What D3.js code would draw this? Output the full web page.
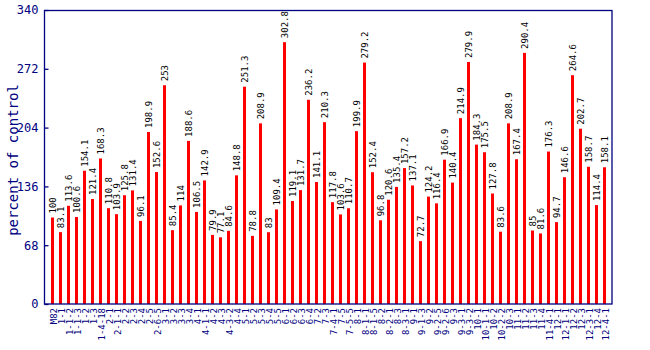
<!DOCTYPE html>
<html><head><meta charset="utf-8">
<script src="https://cdn.jsdelivr.net/npm/d3@7"></script>
<style>body{margin:0;background:#fff}svg{display:block}</style>
</head><body>
<script>
const categories = ["M82","1-1","1-1-2","1-1-3","1-2","1-3","1-4-18","2-1","2-1-1","2-2","2-3","2-4","2-5","2-6-5","3-1","3-2","3-3","3-4","4-1","4-1-1","4-2","4-3","4-3-2","4-4","5-1","5-2","5-3","5-4","5-5","6-1","6-2","6-3","6-4","7-2","7-3","7-4-1","7-5","7-5-5","8-1","8-1-1","8-1-5","8-2","8-2-1","8-3","8-3-1","9-1","9-1-3","9-2","9-2-5","9-2-6","9-3","9-3-1","9-3-2","10-1","10-1-1","10-2","10-2-2","10-3","11-1","11-2","11-3","11-4","11-4-1","12-1","12-1-1","12-2","12-3","12-3-1","12-4","12-4-1"];
const values = [100,83.1,113.6,100.6,154.1,121.4,168.3,110.8,103.9,125.8,131.4,96.1,198.9,152.6,253,85.4,114,188.6,106.5,142.9,79.9,77.1,84.6,148.8,251.3,78.8,208.9,83,109.4,302.8,119.1,131.7,236.2,141.1,210.3,117.8,103.6,110.7,199.9,279.2,152.4,96.8,120.6,135.4,157.2,137.1,72.7,124.2,116.4,166.9,140.4,214.9,279.9,184.3,175.5,127.8,83.6,208.9,167.4,290.4,85,81.6,176.3,94.7,146.6,264.6,202.7,158.7,114.4,158.1];
const valueLabels = ["100","83.1","113.6","100.6","154.1","121.4","168.3","110.8","103.9","125.8","131.4","96.1","198.9","152.6","253","85.4","114","188.6","106.5","142.9","79.9","77.1","84.6","148.8","251.3","78.8","208.9","83","109.4","302.8","119.1","131.7","236.2","141.1","210.3","117.8","103.6","110.7","199.9","279.2","152.4","96.8","120.6","135.4","157.2","137.1","72.7","124.2","116.4","166.9","140.4","214.9","279.9","184.3","175.5","127.8","83.6","208.9","167.4","290.4","85","81.6","176.3","94.7","146.6","264.6","202.7","158.7","114.4","158.1"];
const yTicks = [0,68,136,204,272,340];
const yTitle = "percent of control";

const W = 650, H = 350;
const svg = d3.select("body").append("svg").attr("width", W).attr("height", H);
const font = "'DejaVu Sans Mono', monospace";
const navy = "#000080";

const x = d3.scaleBand().domain(categories).range([47, 607]).padding(0);
const y = d3.scaleLinear().domain([0, 340]).range([304, 10]);

// bars
svg.append("g").selectAll("rect").data(values).join("rect")
  .attr("x", (d, i) => x(categories[i]) + 4)
  .attr("width", 3)
  .attr("y", d => y(d))
  .attr("height", d => y(0) - y(d))
  .attr("fill", "#ff0000");

// value labels
svg.append("g").selectAll("text").data(values).join("text")
  .attr("transform", (d, i) => `translate(${x(categories[i]) + 5.5},${y(d) - 4}) rotate(-90)`)
  .attr("dy", "0.35em")
  .attr("text-anchor", "start")
  .attr("font-family", font).attr("font-size", 9)
  .attr("fill", "#000")
  .text((d, i) => valueLabels[i]);

// frame
svg.append("rect").attr("x", 44.5).attr("y", 10.5).attr("width", 567.5).attr("height", 293.5)
  .attr("fill", "none").attr("stroke", navy).attr("stroke-width", 1.3);

// y axis
const yAxis = d3.axisLeft(y).tickValues(yTicks).tickSize(-4).tickPadding(6).tickFormat(d3.format("d"));
const ya = svg.append("g").attr("transform", "translate(44.5,0)").call(yAxis);
ya.select(".domain").remove();
ya.selectAll("line").attr("stroke", navy).attr("stroke-width", 1.3);
ya.selectAll("text").attr("font-family", font).attr("font-size", 12).attr("fill", navy).attr("x", -6);

// x axis
const xAxis = d3.axisBottom(x).tickSize(0).tickPadding(0);
const xa = svg.append("g").attr("transform", "translate(0,304)").call(xAxis);
xa.select(".domain").remove();
xa.selectAll("text")
  .attr("font-family", font).attr("font-size", 9).attr("fill", navy)
  .attr("text-anchor", "end")
  .attr("transform", "translate(2.5,4) rotate(-90)")
  .attr("x", 0).attr("y", 0).attr("dy", "0.35em");

// y title
svg.append("text")
  .attr("transform", "translate(13,160) rotate(-90)")
  .attr("text-anchor", "middle").attr("dy", "0.35em")
  .attr("font-family", font).attr("font-size", 14).attr("fill", navy)
  .text(yTitle);
</script>
</body></html>
